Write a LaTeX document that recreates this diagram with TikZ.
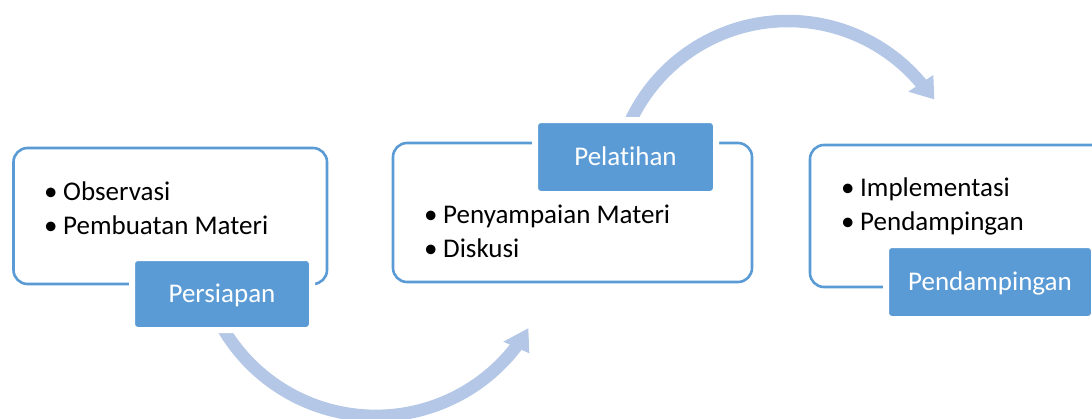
\documentclass[tikz,border=0pt]{standalone}
\usepackage{fontspec}
\setmainfont{Carlito}[Ligatures={NoCommon,TeX}]
\definecolor{accent}{HTML}{5B9BD5}
\definecolor{arrowc}{HTML}{B4C7E7}
\begin{document}
\begin{tikzpicture}[x=1pt,y=-1pt,
  outerbox/.style={draw=accent, line width=2.6pt, rounded corners=14pt, fill=white, inner sep=0pt},
  labelbox/.style={fill=accent, draw=white, line width=6pt, rounded corners=6pt, inner sep=0pt,
    text=white, font=\fontsize{27}{30}\selectfont, text height=16pt, text depth=0pt},
  itemtext/.style={font=\fontsize{27}{30}\selectfont, anchor=base west, inner sep=0pt},
  flow/.style={draw=arrowc, line width=12.5pt},
  flowhead/.style={fill=arrowc}]
\useasboundingbox (0,0) rectangle (1092,418);
\clip (0,0) rectangle (1092,418);

% curved arrows
\draw[flow] plot[domain=160:36.5, samples=80] ({375.7+177*cos(\x)}, {238.9+177*sin(\x)});
\fill[flowhead] (503.3,341.7) -- (528.3,328.3) -- (529.3,353.3) -- cycle;
\draw[flow] plot[domain=-162:-38.5, samples=80] ({787.8+173.7*cos(\x)}, {194.7+173.7*sin(\x)});
\fill[flowhead] (908.3,91.7) -- (934.3,99.3) -- (933.3,75) -- cycle;

% outer boxes
\node[outerbox, minimum width=313.5pt, minimum height=136pt] (b1) at (170.25,216) {};
\node[outerbox, minimum width=359pt, minimum height=139pt] (b2) at (572.5,212.5) {};
\node[outerbox, minimum width=300pt, minimum height=142pt] (b3) at (960,216) {};

% items
\node[itemtext] (i11) at (44,200.5) {\makebox[19pt][l]{•}Observasi};
\node[itemtext] (i12) at (44,234.3) {\makebox[19pt][l]{•}Pembuatan Materi};
\node[itemtext] (i21) at (424,223.3) {\makebox[19pt][l]{•}Penyampaian Materi};
\node[itemtext] (i22) at (424,257.3) {\makebox[19pt][l]{•}Diskusi};
\node[itemtext] (i31) at (841,196.7) {\makebox[19pt][l]{•}Implementasi};
\node[itemtext] (i32) at (841,230.7) {\makebox[19pt][l]{•}Pendampingan};

% label boxes
\node[labelbox, minimum width=180pt, minimum height=72pt] (l1) at (222,294) {Persiapan};
\node[labelbox, minimum width=181pt, minimum height=74pt] (l2) at (625.5,157) {Pelatihan};
\node[labelbox, minimum width=208pt, minimum height=74pt] (l3) at (990,282) {Pendampingan};
\end{tikzpicture}
\end{document}
